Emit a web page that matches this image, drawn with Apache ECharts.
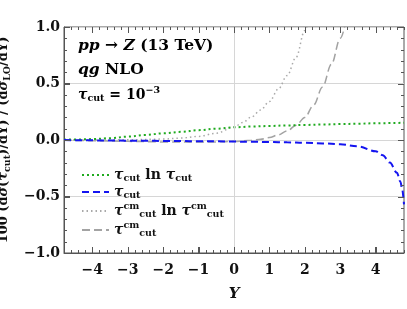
<!DOCTYPE html>
<html><head><meta charset="utf-8">
<script src="https://cdn.jsdelivr.net/npm/echarts@6/dist/echarts.min.js"></script>
<style>html,body{margin:0;padding:0;background:#fff}#c{width:407px;height:309px}</style>
</head><body><div id="c"></div>
<script>
// ---- data ----
const Y = [-4.8,-4.4,-4,-3.5,-3,-2.5,-2,-1.5,-1,-0.5,0,0.5,1,1.5,2,2.5,3,3.5,4,4.2,4.4,4.6,4.7,4.75,4.8];
const tauLnTau = [0.003,0.005,0.008,0.016,0.03,0.045,0.059,0.072,0.087,0.1,0.112,0.119,0.124,0.129,0.133,0.137,0.141,0.144,0.148,0.149,0.15,0.151,0.152,0.152,0.153];
const tauLin = [0,-0.002,-0.003,-0.005,-0.006,-0.007,-0.008,-0.009,-0.011,-0.012,-0.014,-0.016,-0.018,-0.021,-0.025,-0.03,-0.038,-0.056,-0.1,-0.135,-0.2,-0.29,-0.37,-0.44,-0.57];
const Ycm1 = [-4.8,-4,-3,-2,-1.5,-1,-0.5,0,0.25,0.5,0.75,1,1.25,1.5,1.75,2,2.25];
const tauCmLnTauCm = [0,0,0.002,0.008,0.017,0.032,0.06,0.115,0.155,0.205,0.265,0.34,0.45,0.57,0.73,0.97,1.3];
const Ycm2 = [-4.8,-4,-3,-2,-1,-0.5,0,0.5,0.75,1,1.25,1.5,1.75,2,2.25,2.5,2.75,3,3.25];
const tauCm = [0,-0.006,-0.012,-0.017,-0.018,-0.017,-0.013,-0.003,0.007,0.022,0.045,0.08,0.13,0.2,0.31,0.47,0.67,0.9,1.2];
const xMajorTicks = [-4,-3,-2,-1,0,1,2,3,4];
const yMajorTicks = [-1,-0.5,0,0.5,1];
const yTickLabels = ['−1.0','−0.5','0.0','0.5','1.0'];
const seriesNames = ['tlt','t','tcmlt','tcm'];

const FONT = "'DejaVu Serif', serif";
const axisCol = '#555';
const fmtMinus = v => String(v).replace('-', '−');
const pair = (xs, arr) => xs.map((x, i) => [x, arr[i]]);

// tick marks (value, kind 0 = x / 1 = y, length in px)
const tickData = [];
for (let k = -24; k <= 24; k++) tickData.push([k / 5, 0, 0, k % 5 === 0 ? 6 : 3]);
for (let k = -10; k <= 10; k++) tickData.push([0, k / 10, 1, k % 5 === 0 ? 6 : 3]);

const rich = {
  b: {fontFamily: FONT, fontWeight: 'bold', fontSize: 14, color: '#111', lineHeight: 18},
  i: {fontFamily: FONT, fontWeight: 'bold', fontStyle: 'italic', fontSize: 14, color: '#111', lineHeight: 18},
  s: {fontFamily: FONT, fontWeight: 'bold', fontSize: 9.5, color: '#111', lineHeight: 10, verticalAlign: 'bottom'},
  p: {fontFamily: FONT, fontWeight: 'bold', fontSize: 9.5, color: '#111', lineHeight: 10, verticalAlign: 'top'}
};
const big = {b: Object.assign({}, rich.b, {fontSize: 15.5}), i: Object.assign({}, rich.i, {fontSize: 15.5})};
const legendText = {
  tlt: '{i|τ}{s|cut}{b| ln }{i|τ}{s|cut}',
  t: '{i|τ}{s|cut}',
  tcmlt: '{i|τ}{p|cm}{s|cut}{b| ln }{i|τ}{p|cm}{s|cut}',
  tcm: '{i|τ}{p|cm}{s|cut}'
};

function mkLine(name, xs, arr, color, width, dash, z) {
  return {name, type: 'line', data: pair(xs, arr), symbol: 'none', smooth: 0.35, smoothMonotone: 'x',
    clip: true, z, lineStyle: {color, width, type: dash}, itemStyle: {color}};
}
function renderTick(params, api) {
  const cs = params.coordSys, kind = api.value(2), len = api.value(3);
  const st = {stroke: axisCol, lineWidth: 1, fill: null};
  if (kind === 0) {
    const x = Math.round(api.coord([api.value(0), 0])[0]) + 0.5;
    const yb = cs.y + cs.height, yt = cs.y;
    return {type: 'group', children: [
      {type: 'line', shape: {x1: x, y1: yb, x2: x, y2: yb - len}, style: st},
      {type: 'line', shape: {x1: x, y1: yt, x2: x, y2: yt + len}, style: st}]};
  }
  const y = Math.round(api.coord([0, api.value(1)])[1]) + 0.5;
  const xl = cs.x, xr = cs.x + cs.width;
  return {type: 'group', children: [
    {type: 'line', shape: {x1: xl, y1: y, x2: xl + len, y2: y}, style: st},
    {type: 'line', shape: {x1: xr, y1: y, x2: xr - len, y2: y}, style: st}]};
}

const chart = echarts.init(document.getElementById('c'));
chart.setOption({
  animation: false, backgroundColor: '#fff',
  grid: {left: 64, right: 3, top: 27, bottom: 56, outerBoundsMode: 'none',
    show: true, borderColor: axisCol, borderWidth: 1, backgroundColor: 'transparent'},
  xAxis: {type: 'value', min: -4.8, max: 4.8,
    axisLine: {show: true, onZero: false, lineStyle: {color: axisCol}},
    axisTick: {show: true, inside: true, length: 6, customValues: xMajorTicks, lineStyle: {color: axisCol}},
    splitLine: {show: false},
    axisLabel: {show: true, customValues: xMajorTicks, margin: 10, formatter: fmtMinus,
      fontFamily: FONT, fontWeight: 'bold', fontSize: 14, color: '#111'},
    name: 'Y', nameLocation: 'middle', nameGap: 34,
    nameTextStyle: {fontFamily: FONT, fontWeight: 'bold', fontStyle: 'italic', fontSize: 15, color: '#111'}},
  yAxis: {type: 'value', min: -1, max: 1, interval: 0.5,
    axisLine: {show: true, onZero: false, lineStyle: {color: axisCol}},
    axisTick: {show: true, inside: true, length: 6, lineStyle: {color: axisCol}},
    splitLine: {show: true, lineStyle: {color: '#d6d6d6', width: 1}},
    axisLabel: {show: true, margin: 4, formatter: v => yTickLabels[yMajorTicks.indexOf(v)],
      fontFamily: FONT, fontWeight: 'bold', fontSize: 14, color: '#111'},
    name: '{b|100 (d}{i|σ}{b|(}{i|τ}{s|cut}{b|)/dY) / (d}{i|σ}{s|LO}{b|/dY)}',
    nameLocation: 'middle', nameGap: 47,
    nameTextStyle: {rich: {b: Object.assign({}, rich.b, {fontSize: 13}), i: Object.assign({}, rich.i, {fontSize: 13}), s: rich.s}}},
  legend: {orient: 'vertical', left: 76, top: 163, itemWidth: 27, itemHeight: 10, itemGap: 1,
    selectedMode: false, data: seriesNames, formatter: n => legendText[n],
    itemStyle: {opacity: 0}, textStyle: {rich: rich}},
  graphic: [
    {type: 'text', left: 78, top: 38, silent: true, style: {text: '{i|pp}{b| → }{i|Z}{b| (13 TeV)}', rich: big}},
    {type: 'text', left: 78, top: 62, silent: true, style: {text: '{i|qg}{b| NLO}', rich: big}},
    {type: 'text', left: 78, top: 86, silent: true, style: {text: '{i|τ}{s|cut}{b| = 10}{p|−3}', rich: rich}}
  ],
  series: [
    {name: 'grid0', type: 'line', data: [[0, 0]], symbol: 'none', z: 1, silent: true, lineStyle: {opacity: 0},
      markLine: {silent: true, symbol: 'none', label: {show: false},
        lineStyle: {color: '#d6d6d6', width: 1, type: 'solid'}, data: [{xAxis: 0}]}},
    {name: 'ticks', type: 'custom', data: tickData, renderItem: renderTick, clip: false, silent: true, z: 6},
    mkLine('tcmlt', Ycm1, tauCmLnTauCm, '#a9a9a9', 1.5, [1.5, 3], 3),
    mkLine('tcm', Ycm2, tauCm, '#a3a3a3', 1.5, [8, 4], 3),
    mkLine('tlt', Y, tauLnTau, '#1faa1f', 2, [2, 3], 4),
    mkLine('t', Y, tauLin, '#1414f0', 2, [7, 4], 5)
  ]
});
</script></body></html>
